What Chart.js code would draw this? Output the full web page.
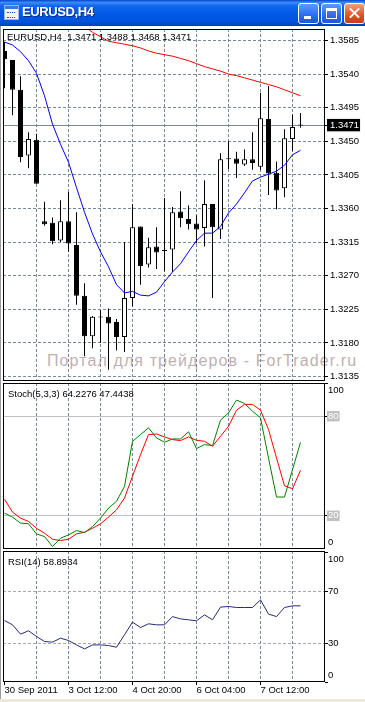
<!DOCTYPE html>
<html>
<head>
<meta charset="utf-8">
<title>EURUSD,H4</title>
<script src="https://cdn.jsdelivr.net/npm/chart.js"></script>
<style>
    body { margin: 0; width: 365px; height: 702px; position: relative; overflow: hidden; background: #fff; font-family: "Liberation Sans", Arial, sans-serif; }
    canvas { position: absolute; left: 0; z-index: 1; }
    #title { position: absolute; left: 0; top: 0; width: 365px; height: 26px; z-index: 3;
        background: linear-gradient(#0846d0 0%, #3a8cf8 10%, #1367ee 22%, #0058e6 55%, #0053dc 85%, #0040b0 100%); }
    #title .txt { position: absolute; left: 22px; top: 5px; color: #fff; font: bold 13px/14px "Liberation Sans", Arial, sans-serif; letter-spacing: -0.4px; text-shadow: 1px 1px #0a2a8a; }
    #title .ico { position: absolute; left: 4px; top: 5px; width: 13px; height: 13px; background: #f4f4f4; border: 1px solid #9cb8e8; }
    #title .ico:before { content: ""; position: absolute; left: 0; top: 0; width: 13px; height: 3px; background: #3c78d8; }
    #title .ico:after { content: ""; position: absolute; left: 2px; top: 6px; width: 8px; height: 4px; border-bottom: 1px dotted #2050c0; border-top: 1px dotted #2050c0; }
    .btn { position: absolute; top: 3px; width: 19px; height: 19px; border: 1px solid #fff; border-radius: 3px;
        background: linear-gradient(#5a9cff, #2a6cf0 60%, #1c58d8); }
    .btn.min { left: 298px; }
    .btn.min:after { content: ""; position: absolute; left: 5px; top: 12px; width: 7px; height: 3px; background: #fff; }
    .btn.max { left: 321px; }
    .btn.max:after { content: ""; position: absolute; left: 4px; top: 4px; width: 9px; height: 7px; border: 1px solid #fff; border-top-width: 3px; }
    .btn.close { left: 344px; background: linear-gradient(#f0a080, #e0582c 55%, #c83c12); }
    .btn.close:before, .btn.close:after { content: ""; position: absolute; left: 3px; top: 8px; width: 13px; height: 2px; background: #fff; }
    .btn.close:before { transform: rotate(45deg); }
    .btn.close:after { transform: rotate(-45deg); }
    #edge { position: absolute; left: 0; top: 26px; width: 1px; height: 676px; background: #9a9a9a; }
    #foot { position: absolute; left: 0; top: 699px; width: 365px; height: 3px; background: #ece9d8; }
    .lbl { position: absolute; z-index: 2; font-size: 9.5px; line-height: 11px; color: #000; white-space: pre; }
    #wm { position: absolute; left: 47px; top: 353px; z-index: 0; font-size: 16px; line-height: 16px; letter-spacing: 1.1px; color: #bfb0b0; white-space: pre; }
</style>
</head>
<body>
<div id="title"><div class="ico"></div><span class="txt">EURUSD,H4</span>
    <div class="btn min"></div><div class="btn max"></div><div class="btn close"></div></div>
<div id="edge"></div>
<div id="wm">Портал для трейдеров - ForTrader.ru</div>
<canvas id="mainChart" width="365" height="352" style="top:29px"></canvas>
<canvas id="stochChart" width="365" height="166" style="top:383px"></canvas>
<canvas id="rsiChart" width="365" height="151" style="top:551px"></canvas>
<div class="lbl" id="mainLabel" style="left:7px;top:31px"></div>
<div class="lbl" id="stochLabel" style="left:8px;top:388px"></div>
<div class="lbl" id="rsiLabel" style="left:8px;top:556px"></div>
<div id="foot"></div>
<script>
// ==================== Data ====================
const symbolName = 'EURUSD,H4';
const timeLabels = ['30 Sep 2011', '3 Oct 12:00', '4 Oct 20:00', '6 Oct 04:00', '7 Oct 12:00'];
const timeLabelBars = [0, 8, 16, 24, 32];

const opens  = [1.3571, 1.3559, 1.3519, 1.3431, 1.3452, 1.3343, 1.3341, 1.3317, 1.3343, 1.3311,
                1.3243, 1.3189, 1.3214, 1.3215, 1.3208, 1.3188, 1.3240, 1.3336, 1.3285, 1.3309,
                1.3303, 1.3305, 1.3356, 1.3346, 1.3340, 1.3334, 1.3366, 1.3332, 1.3426, 1.3427,
                1.3419, 1.3426, 1.3416, 1.3480, 1.3408, 1.3387, 1.3453, 1.3471];
const highs  = [1.3583, 1.3559, 1.3537, 1.3462, 1.3460, 1.3369, 1.3348, 1.3371, 1.3382, 1.3355,
                1.3260, 1.3216, 1.3224, 1.3226, 1.3212, 1.3315, 1.3366, 1.3336, 1.3321, 1.3335,
                1.3374, 1.3362, 1.3383, 1.3364, 1.3351, 1.3398, 1.3366, 1.3434, 1.3450, 1.3436,
                1.3439, 1.3462, 1.3515, 1.3524, 1.3423, 1.3466, 1.3486, 1.3488];
const lows   = [1.3521, 1.3485, 1.3422, 1.3414, 1.3393, 1.3337, 1.3312, 1.3315, 1.3302, 1.3231,
                1.3162, 1.3173, 1.3180, 1.3144, 1.3170, 1.3168, 1.3229, 1.3258, 1.3281, 1.3279,
                1.3276, 1.3275, 1.3335, 1.3332, 1.3313, 1.3309, 1.3240, 1.3319, 1.3413, 1.3401,
                1.3417, 1.3412, 1.3412, 1.3378, 1.3359, 1.3375, 1.3437, 1.3468];
const closes = [1.3560, 1.3519, 1.3429, 1.3453, 1.3393, 1.3339, 1.3316, 1.3343, 1.3313, 1.3243,
                1.3189, 1.3215, 1.3215, 1.3206, 1.3188, 1.3240, 1.3335, 1.3283, 1.3308, 1.3301,
                1.3304, 1.3355, 1.3347, 1.3339, 1.3332, 1.3366, 1.3335, 1.3426, 1.3427, 1.3420,
                1.3426, 1.3421, 1.3481, 1.3407, 1.3384, 1.3454, 1.3469, 1.3471];

// blue and red moving averages
const maFast = [1.3583, 1.3579, 1.3570, 1.3558, 1.3541, 1.3511, 1.3473, 1.3446, 1.3422, 1.3388,
                1.3355, 1.3326, 1.3302, 1.3282, 1.3258, 1.3247, 1.3249, 1.3244, 1.3243, 1.3248,
                1.3262, 1.3275, 1.3286, 1.3302, 1.3317, 1.3327, 1.3327, 1.3336, 1.3354, 1.3366,
                1.3381, 1.3397, 1.3402, 1.3406, 1.3410, 1.3418, 1.3432, 1.3438];
const maSlow = [null, null, null, null, null, null, null, null, null, null,
                1.3604, 1.3596, 1.3590, 1.3584, 1.3582, 1.3580, 1.3578, 1.3575, 1.3571, 1.3568,
                1.3566, 1.3564, 1.3561, 1.3558, 1.3554, 1.3550, 1.3547, 1.3544, 1.3540, 1.3538,
                1.3535, 1.3532, 1.3529, 1.3526, 1.3523, 1.3519, 1.3515, 1.3511];

const stochMain   = [21.6, 19.2, 15.6, 15.2, 9.1, 7.5, 1.5, 6.5, 8.5, 11.1,
                     9.9, 13.5, 18.6, 24.6, 28.7, 37.7, 64.9, 68.9, 73.0, 66.9,
                     64.3, 66.3, 66.3, 70.6, 60.5, 62.9, 62.3, 77.6, 82.0, 89.7,
                     87.7, 83.0, 79.0, 54.8, 31.3, 31.3, 47.8, 64.2276];
const stochSignal = [30.0, 22.2, 18.6, 16.6, 12.5, 9.5, 5.9, 5.1, 5.9, 9.1,
                     10.1, 12.5, 15.2, 19.2, 23.6, 30.7, 43.8, 56.8, 68.9, 69.3,
                     67.5, 65.9, 65.3, 67.5, 65.5, 64.9, 61.9, 67.9, 73.9, 83.6,
                     87.1, 87.1, 83.6, 72.0, 54.8, 38.1, 36.3, 47.4438];
const rsiValues   = [47.5, 44.2, 37.0, 39.6, 35.2, 31.3, 30.8, 33.9, 32.1, 28.7,
                     25.6, 28.7, 28.7, 28.2, 26.9, 36.5, 46.3, 42.1, 45.0, 44.2,
                     44.2, 50.6, 48.8, 48.1, 47.3, 51.9, 48.1, 57.9, 58.4, 57.6,
                     57.6, 57.6, 63.5, 52.5, 50.6, 57.6, 58.9, 58.8934];

const priceTicks  = [1.3135, 1.3180, 1.3225, 1.3270, 1.3315, 1.3360, 1.3405, 1.3450, 1.3495, 1.3540, 1.3585];
const bidPrice    = 1.3471;
const stochLevels = [0, 20, 80, 100];
const rsiLevels   = [0, 30, 70, 100];

// ==================== Layout ====================
const X_MIN = -0.1875, X_MAX = 40.0625;
const GRID = '#778899';
const NONE = 'rgba(0,0,0,0)';

Chart.defaults.font.family = "'Liberation Sans', Arial, sans-serif";
Chart.defaults.font.size = 9.5;
Chart.defaults.color = '#000';

const gridBars = [];
for (let k = 0; k < opens.length; k += 4) gridBars.push(k);

// black frame round each plot area
const framePlugin = {
    id: 'frame',
    afterDraw(chart) {
        const { ctx, chartArea: a } = chart;
        ctx.save();
        ctx.strokeStyle = '#000';
        ctx.lineWidth = 1;
        ctx.strokeRect(a.left + 0.5, a.top + 0.5, a.right - a.left - 1, a.bottom - a.top - 1);
        ctx.restore();
    }
};

function timeAxis(showLabels) {
    return {
        type: 'linear', min: X_MIN, max: X_MAX, offset: false,
        afterBuildTicks: axis => { axis.ticks = gridBars.map(v => ({ value: v })); },
        afterFit: axis => { axis.height = showLabels ? 20 : 0; axis.paddingLeft = 0; axis.paddingRight = 0; },
        grid: {
            offset: false,
            color: c => (c.tick && c.tick.value > 0) ? GRID : NONE,
            drawTicks: showLabels,
            tickLength: 3,
            tickColor: c => (c.tick && timeLabelBars.includes(c.tick.value)) ? '#000' : NONE
        },
        border: { display: false, dash: [3, 2] },
        ticks: {
            display: showLabels, autoSkip: false, minRotation: 0, maxRotation: 0, align: 'start', padding: 0,
            callback: v => { const i = timeLabelBars.indexOf(v); return i >= 0 ? timeLabels[i] : ''; }
        }
    };
}

function fixWidth(axis) {
    axis.width = 40;
    axis.paddingTop = 0;
    axis.paddingBottom = 0;
}

// levels panel axis (stochastic / rsi), top and bottom labels sit inside the panel
function levelAxis(levels, max, top, lineColor, dash, boxed) {
    const inner = c => !!(c.tick && c.tick.value > 0 && c.tick.value < top);
    return {
        position: 'right', min: 0, max: max,
        afterBuildTicks: axis => { axis.ticks = levels.map(v => ({ value: v })); },
        afterFit: fixWidth,
        grid: { color: c => inner(c) ? lineColor : NONE, tickLength: 3, tickColor: '#000' },
        border: { display: false, dash: dash },
        ticks: {
            autoSkip: false, padding: 0,
            callback: v => v === top ? ['', String(v)] : (v === 0 ? ['0', ''] : String(v)),
            font: c => ({ size: 9.5, lineHeight: inner(c) ? 1.1 : 1.5 }),
            color: c => (boxed && inner(c)) ? '#fff' : '#000',
            showLabelBackdrop: c => boxed && inner(c),
            backdropColor: '#c0c0c0',
            backdropPadding: { left: 1, right: 1, top: 0, bottom: 0 }
        }
    };
}

function baseOptions(yAxis, showTime) {
    return {
        responsive: false,
        animation: false,
        events: [],
        layout: { padding: { left: 3, top: 0, right: 0, bottom: 0 } },
        plugins: { legend: { display: false }, tooltip: { enabled: false } },
        scales: { x: timeAxis(showTime), y: yAxis }
    };
}

function lineSet(values, color, order) {
    return {
        type: 'line',
        data: values.map((v, i) => ({ x: i, y: v })).filter(p => p.y !== null),
        borderColor: color, borderWidth: 1, pointRadius: 0, tension: 0, fill: false,
        order: order, clip: 0
    };
}

// ==================== Price chart ====================
const mainTicks = priceTicks.concat([bidPrice]).sort((a, b) => a - b);
const isBid = c => !!(c.tick && c.tick.value === bidPrice);

const priceAxis = {
    position: 'right', min: 1.31290, max: 1.36004, stacked: false,
    afterBuildTicks: axis => { axis.ticks = mainTicks.map(v => ({ value: v })); },
    afterFit: fixWidth,
    grid: { color: GRID, tickLength: 3, tickColor: '#000' },
    border: { display: false, dash: c => isBid(c) ? [] : [3, 2] },
    ticks: {
        autoSkip: false, padding: 2,
        callback: v => v.toFixed(4),
        color: c => isBid(c) ? '#fff' : '#000',
        showLabelBackdrop: c => isBid(c),
        backdropColor: '#000',
        backdropPadding: { left: 3, right: 1, top: 1, bottom: 0 }
    }
};

new Chart(document.getElementById('mainChart'), {
    type: 'line',
    data: {
        datasets: [
            lineSet(maSlow, '#ff0000', 0),
            lineSet(maFast, '#0000ff', 0),
            {
                type: 'bar', label: 'Body',
                data: opens.map((o, i) => ({ x: i, y: [o, closes[i]] })),
                backgroundColor: c => closes[c.dataIndex] >= opens[c.dataIndex] ? '#ffffff' : '#000000',
                borderColor: '#000', borderWidth: 1, borderSkipped: false,
                barThickness: 5, grouped: false, minBarLength: 1, inflateAmount: 0,
                order: 1, clip: 0
            },
            {
                type: 'bar', label: 'Wick',
                data: lows.map((l, i) => ({ x: i, y: [l, highs[i]] })),
                backgroundColor: '#000', borderWidth: 0,
                barThickness: 1, grouped: false, inflateAmount: 0,
                order: 2, clip: 0
            }
        ]
    },
    options: baseOptions(priceAxis, false),
    plugins: [framePlugin]
});

// ==================== Stochastic ====================
new Chart(document.getElementById('stochChart'), {
    type: 'line',
    data: {
        datasets: [
            lineSet(stochSignal, '#ff0000', 1),
            lineSet(stochMain, '#008000', 0)
        ]
    },
    options: baseOptions(levelAxis(stochLevels, 100, 100, '#c0c0c0', [], true), false),
    plugins: [framePlugin]
});

// ==================== RSI ====================
new Chart(document.getElementById('rsiChart'), {
    type: 'line',
    data: { datasets: [lineSet(rsiValues, '#262a78', 0)] },
    options: baseOptions(levelAxis(rsiLevels, 101.3, 100, '#a8a8a8', [3, 2], false), true),
    plugins: [framePlugin]
});

// ==================== Panel captions ====================
const last = opens.length - 1;
document.getElementById('mainLabel').textContent =
    `${symbolName}  ${opens[last].toFixed(4)} ${highs[last].toFixed(4)} ${lows[last].toFixed(4)} ${closes[last].toFixed(4)}`;
document.getElementById('stochLabel').textContent =
    `Stoch(5,3,3) ${stochMain[last].toFixed(4)} ${stochSignal[last].toFixed(4)}`;
document.getElementById('rsiLabel').textContent = `RSI(14) ${rsiValues[last].toFixed(4)}`;
</script>
</body>
</html>
